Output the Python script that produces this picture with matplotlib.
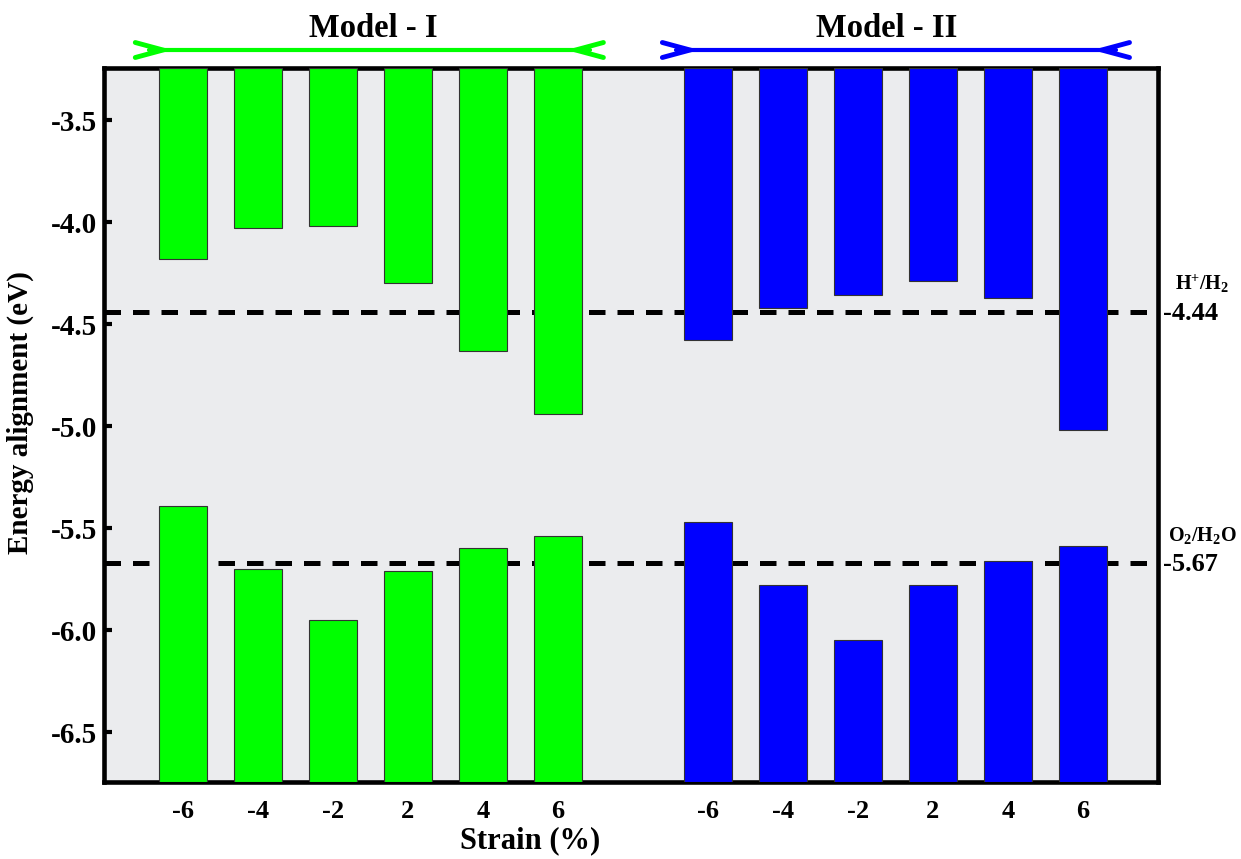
import matplotlib
matplotlib.use('Agg')
import matplotlib.pyplot as plt
from matplotlib.transforms import blended_transform_factory
import numpy as np

# band edges (eV), strain -6..6 %
strain_labels = ['-6', '-4', '-2', '2', '4', '6']
cbm_model1 = [-4.18, -4.03, -4.02, -4.30, -4.63, -4.94]
vbm_model1 = [-5.39, -5.70, -5.95, -5.71, -5.60, -5.54]
cbm_model2 = [-4.58, -4.42, -4.36, -4.29, -4.37, -5.02]
vbm_model2 = [-5.47, -5.78, -6.05, -5.78, -5.66, -5.59]
redox_levels = [-4.44, -5.67]
redox_names = [r'$\mathrm{H^{+}/H_{2}}$', r'$\mathrm{O_{2}/H_{2}O}$']
yticks = [-3.5, -4.0, -4.5, -5.0, -5.5, -6.0, -6.5]

plt.rcParams['font.family'] = ['Liberation Serif', 'DejaVu Serif']
plt.rcParams['font.weight'] = 'bold'
plt.rcParams['axes.unicode_minus'] = False
plt.rcParams['mathtext.fontset'] = 'custom'
plt.rcParams['mathtext.rm'] = 'Liberation Serif:bold'
plt.rcParams['mathtext.it'] = 'Liberation Serif:bold:italic'
plt.rcParams['mathtext.bf'] = 'Liberation Serif:bold'

W, H = 1241, 859
fig = plt.figure(figsize=(W / 100, H / 100), dpi=100)
ax = fig.add_axes([104 / W, 1 - 782 / H, (1158 - 104) / W, (782 - 68) / H])
ax.set_facecolor('#EBECEE')

ytop, ybot = -3.245, -6.745
ax.set_xlim(-1.05, 13.0)
ax.set_ylim(ybot, ytop)

x1 = np.arange(6)
x2 = np.arange(6) + 7
bw = 0.64
green, blue = '#00FF00', '#0000FF'

for xs, cb, vb, col in [(x1, cbm_model1, vbm_model1, green),
                        (x2, cbm_model2, vbm_model2, blue)]:
    cb = np.array(cb)
    vb = np.array(vb)
    ax.bar(xs, cb - ytop, bottom=ytop, width=bw, color=col,
           edgecolor='#333333', linewidth=0.8, zorder=3)
    ax.bar(xs, vb - ybot, bottom=ybot, width=bw, color=col,
           edgecolor='#333333', linewidth=0.8, zorder=3)

# water redox potentials
for lvl in redox_levels:
    ax.axhline(lvl, color='black', lw=3.6, dashes=(3.3, 2.4), zorder=2)

tr_r = blended_transform_factory(ax.transAxes, ax.transData)
for lvl, name in zip(redox_levels, redox_names):
    ax.text(1.005, lvl - 0.01, '%.2f' % lvl, transform=tr_r, ha='left',
            va='center', fontsize=19, fontweight='bold')
    ax.text(1.042, lvl + 0.135, name, transform=tr_r, ha='center',
            va='center', fontsize=14.5)

# axes styling
for sp in ax.spines.values():
    sp.set_linewidth(3.3)
ax.set_yticks(yticks)
ax.set_yticklabels(['%.1f' % v for v in yticks], fontsize=21, fontweight='bold')
ax.tick_params(axis='y', direction='in', length=6, width=3, pad=5, right=False)
ax.set_xticks(np.concatenate([x1, x2]))
ax.set_xticklabels(strain_labels * 2, fontsize=19, fontweight='bold')
ax.tick_params(axis='x', length=0, pad=13)

ax.set_xlabel('Strain (%)', fontsize=22, fontweight='bold')
ax.xaxis.set_label_coords(0.404, -0.062)
ax.set_ylabel('Energy alignment (eV)', fontsize=21, fontweight='bold')
ax.yaxis.set_label_coords(-0.066, 0.517)

# model brackets above the plot
tr_t = blended_transform_factory(ax.transData, ax.transAxes)
d, h, ya = 0.37, 0.0105, 1.0252


def model_arrow(xa, xb, col):
    ax.plot([xa + 0.5 * d, xb - 0.5 * d], [ya, ya], color=col, lw=3,
            transform=tr_t, clip_on=False, solid_capstyle='round')
    ax.plot([xa, xa + d, xa], [ya + h, ya, ya - h], color=col, lw=3.5,
            transform=tr_t, clip_on=False, solid_joinstyle='miter',
            solid_capstyle='round')
    ax.plot([xb, xb - d, xb], [ya + h, ya, ya - h], color=col, lw=3.5,
            transform=tr_t, clip_on=False, solid_joinstyle='miter',
            solid_capstyle='round')


model_arrow(-0.633, 5.607, green)
model_arrow(6.393, 12.62, blue)
ax.text(2.54, 1.043, 'Model - I', transform=tr_t, ha='center',
        va='baseline', fontsize=23.5, fontweight='bold')
ax.text(9.39, 1.043, 'Model - II', transform=tr_t, ha='center',
        va='baseline', fontsize=23.5, fontweight='bold')

fig.savefig('out.png', dpi=100)
